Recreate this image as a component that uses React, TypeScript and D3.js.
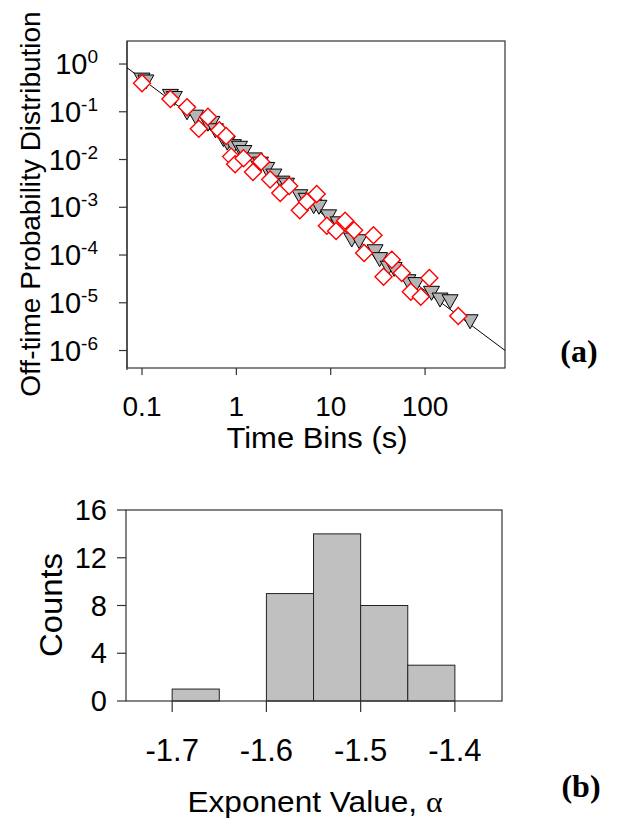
import React from 'react';
import * as d3 from 'd3';

// ---- Panel (a) data ----
const diamondX = [0.1, 0.2, 0.3, 0.4, 0.5, 0.66, 0.78, 0.88, 0.97, 1.19, 1.5, 1.83, 2.28, 2.92, 3.63, 4.7, 5.6, 7.1, 9.1, 11.4, 14.2, 17.7, 22.6, 28.4, 36.3, 44.4, 56.6, 70.6, 90, 111, 225];
const diamondY = [0.394, 0.185, 0.124, 0.044, 0.079, 0.041, 0.031, 0.0115, 0.008, 0.0106, 0.0055, 0.009, 0.0038, 0.002, 0.0028, 0.00087, 0.0013, 0.0019, 0.00041, 0.00032, 0.00052, 0.00033, 0.00011, 0.00026, 0.000035, 0.00008, 0.000042, 0.000017, 0.0000134, 0.000033, 0.0000053];

const triangleX = [0.1, 0.11, 0.2, 0.22, 0.3, 0.37, 0.5, 0.55, 0.6, 0.73, 0.8, 0.93, 1.08, 1.2, 1.55, 1.8, 2.1, 2.5, 3.04, 3.4, 4.7, 5.5, 6.6, 7.5, 9.5, 12, 16.7, 20, 29.5, 33, 40.8, 47, 65.8, 80, 117, 144, 184, 300];
const triangleY = [0.46, 0.42, 0.21, 0.19, 0.095, 0.077, 0.055, 0.057, 0.04, 0.026, 0.022, 0.0186, 0.0172, 0.014, 0.0098, 0.008, 0.0062, 0.0045, 0.0032, 0.0029, 0.00166, 0.0014, 0.00103, 0.001, 0.00063, 0.00045, 0.000206, 0.00019, 0.000117, 0.00008, 0.000053, 0.00005, 0.0000276, 0.000024, 0.0000158, 0.0000114, 0.0000105, 0.000004];

const fitPrefactor = 0.0162;
const fitExponent = -1.478;

const xTicksA = [0.1, 1, 10, 100];
const xTickLabelsA = ['0.1', '1', '10', '100'];
const yTickExponentsA = [0, -1, -2, -3, -4, -5, -6];

// ---- Panel (b) data ----
const binLeft = [-1.7, -1.6, -1.55, -1.5, -1.45];
const binWidth = 0.05;
const binCounts = [1, 9, 14, 8, 3];
const xTicksB = [-1.7, -1.6, -1.5, -1.4];
const yTicksB = [0, 4, 8, 12, 16];

const FONT = 'Liberation Sans, Arial, Helvetica, sans-serif';
const SERIF = 'Liberation Serif, Times New Roman, serif';
const AX = '#333';

export default function App() {
  // Panel (a) geometry
  const aL = 127, aR = 505, aT = 41, aB = 368;
  const xA = d3.scaleLog().domain([Math.pow(10, -1.159), Math.pow(10, 2.847)]).range([aL, aR]);
  const yA = d3.scaleLog().domain([Math.pow(10, -6.366), Math.pow(10, 0.482)]).range([aB, aT]);

  const fitLine = d3.line<number>()
    .x((d) => xA(d))
    .y((d) => yA(fitPrefactor * Math.pow(d, fitExponent)));
  const fitPts = xA.domain();

  // Panel (b) geometry
  const bL = 126, bR = 502, bT = 510, bB = 701;
  const xB = d3.scaleLinear().domain([-1.749, -1.35]).range([bL, bR]);
  const yB = d3.scaleLinear().domain([0, 16]).range([bB, bT]);

  const triW = 16, triH = 14;
  const dr = 8.5;

  return (
    <svg width={622} height={826} style={{ position: 'absolute', left: 0, top: 0, background: '#fff' }} fontFamily={FONT}>
      <defs>
        <clipPath id="clipA">
          <rect x={aL} y={aT} width={aR - aL} height={aB - aT} />
        </clipPath>
      </defs>
      <rect x={0} y={0} width={622} height={826} fill="#fff" />

      {/* ---------- Panel (a) ---------- */}
      <rect x={aL} y={aT} width={aR - aL} height={aB - aT} fill="none" stroke={AX} strokeWidth={1.2} />
      <line x1={aL} x2={aL} y1={aT} y2={aB + 2} stroke={AX} strokeWidth={1.2} />
      {yTickExponentsA.map((e) => {
        const y = yA(Math.pow(10, e));
        return (
          <g key={'ya' + e}>
            <line x1={aL - 8} x2={aL} y1={y} y2={y} stroke={AX} strokeWidth={1.2} />
            <text x={98} y={y + 10} textAnchor="end" fontSize={29} fill="#000">
              10<tspan dy={-11} fontSize={19}>{e === 0 ? '0' : '-' + Math.abs(e)}</tspan>
            </text>
          </g>
        );
      })}
      {xTicksA.map((t, i) => {
        const x = xA(t);
        return (
          <g key={'xa' + t}>
            <line x1={x} x2={x} y1={aB} y2={aB + 7} stroke={AX} strokeWidth={1.2} />
            <text x={x} y={416} textAnchor="middle" fontSize={28} fill="#000">{xTickLabelsA[i]}</text>
          </g>
        );
      })}

      <g clipPath="url(#clipA)">
        <path d={fitLine(fitPts) || ''} fill="none" stroke="#000" strokeWidth={1} />
        {triangleX.map((xv, i) => {
          const cx = xA(xv), cy = yA(triangleY[i]);
          return (
            <path
              key={'t' + i}
              d={`M${cx - triW / 2},${cy - triH / 2}L${cx + triW / 2},${cy - triH / 2}L${cx},${cy + triH / 2}Z`}
              fill="#b4b4b4"
              stroke="#000"
              strokeWidth={1}
            />
          );
        })}
        {diamondX.map((xv, i) => {
          const cx = xA(xv), cy = yA(diamondY[i]);
          return (
            <path
              key={'d' + i}
              d={`M${cx},${cy - dr}L${cx + dr},${cy}L${cx},${cy + dr}L${cx - dr},${cy}Z`}
              fill="#fff"
              stroke="#ff0000"
              strokeWidth={1.4}
            />
          );
        })}
      </g>

      <text x={317} y={448} textAnchor="middle" fontSize={29} textLength={181} lengthAdjust="spacingAndGlyphs" fill="#000">Time Bins (s)</text>
      <text transform="translate(40,204) rotate(-90)" textAnchor="middle" fontSize={28} fill="#000">
        Off-time Probability Distribution
      </text>
      <text x={579} y={362} textAnchor="middle" fontSize={32} fontWeight="bold" fontFamily={SERIF} fill="#000">(a)</text>

      {/* ---------- Panel (b) ---------- */}
      {binLeft.map((b, i) => (
        <rect
          key={'bar' + i}
          x={xB(b)}
          y={yB(binCounts[i])}
          width={xB(b + binWidth) - xB(b)}
          height={yB(0) - yB(binCounts[i])}
          fill="#c0c0c0"
          stroke="#222"
          strokeWidth={1}
        />
      ))}
      <rect x={bL} y={bT} width={bR - bL} height={bB - bT} fill="none" stroke={AX} strokeWidth={1.2} />
      {yTicksB.map((t) => {
        const y = yB(t);
        return (
          <g key={'yb' + t}>
            <line x1={bL - 9} x2={bL} y1={y} y2={y} stroke={AX} strokeWidth={1.2} />
            <text x={107} y={y + 10} textAnchor="end" fontSize={29} fill="#000">{t}</text>
          </g>
        );
      })}
      {xTicksB.map((t) => {
        const x = xB(t);
        return (
          <g key={'xb' + t}>
            <line x1={x} x2={x} y1={bB} y2={bB + 11} stroke={AX} strokeWidth={1.2} />
            <text x={x} y={761} textAnchor="middle" fontSize={31} fill="#000">{t.toFixed(1)}</text>
          </g>
        );
      })}
      <text transform="translate(62,605) rotate(-90)" textAnchor="middle" fontSize={31} textLength={104} lengthAdjust="spacingAndGlyphs" fill="#000">Counts</text>
      <text x={315} y={812} textAnchor="middle" fontSize={30} textLength={255} lengthAdjust="spacingAndGlyphs" fill="#000">
        Exponent Value, <tspan fontFamily={SERIF}>α</tspan>
      </text>
      <text x={581} y={797} textAnchor="middle" fontSize={32} fontWeight="bold" fontFamily={SERIF} fill="#000">(b)</text>
    </svg>
  );
}
